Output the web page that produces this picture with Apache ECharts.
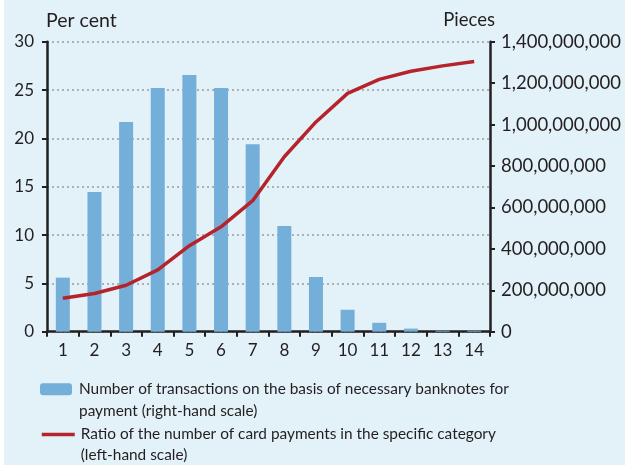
<!DOCTYPE html>
<html>
<head>
    <meta charset="utf-8">
    <title>Card payments</title>
    <script src="https://cdn.jsdelivr.net/npm/echarts@6/dist/echarts.min.js"></script>
</head>
<body style="margin:0;background:#fff">
    <div id="main" style="position:absolute;left:4px;top:0;width:621px;height:465px;background:#e3f1f9"></div>
    <script type="text/javascript">
        var chart = echarts.init(document.getElementById('main'));

        // categories: number of banknotes needed for payment
        var categories = ['1', '2', '3', '4', '5', '6', '7', '8', '9', '10', '11', '12', '13', '14'];
        // pieces (right-hand scale)
        var transactions = [261e6, 674e6, 1012e6, 1176e6, 1239e6, 1176e6, 905e6, 510e6, 264e6, 106e6, 43e6, 15e6, 5e6, 5e6];
        // per cent (left-hand scale)
        var cardRatio = [3.45, 3.95, 4.8, 6.4, 8.9, 10.85, 13.55, 18.1, 21.7, 24.65, 26.1, 26.95, 27.5, 27.95];

        var leftTicks = { min: 0, max: 30, interval: 5 };
        var rightTicks = { min: 0, max: 1400000000, interval: 200000000 };

        var barName = 'Number of transactions on the basis of necessary banknotes for\npayment (right-hand scale)';
        var lineName = 'Ratio of the number of card payments in the specific category\n(left-hand scale)';

        var ink = '#231f20';
        var font = 'Lato';

        // empty first line so the icon sits next to the first text line
        function legendText(name) { return '\n' + name; }

        var option = {
            animation: false,
            textStyle: { fontFamily: font },
            grid: { left: 43, right: 135, top: 41.7, height: 290 },
            graphic: [{
                type: 'text', left: 42, top: 11,
                style: { text: 'Per cent', fill: ink, font: '19.5px Lato' }
            }, {
                type: 'text', right: 130, top: 11,
                style: { text: 'Pieces', fill: ink, font: '18.5px Lato' }
            }],
            legend: [{
                left: 36, top: 357, padding: 0,
                itemWidth: 32, itemHeight: 12,
                data: [barName],
                formatter: legendText,
                textStyle: { color: ink, fontSize: 15.4, lineHeight: 21.5, padding: [0, 0, 0, 2] }
            }, {
                left: 36, top: 403, padding: 0,
                itemWidth: 33, itemHeight: 12,
                data: [lineName],
                formatter: legendText,
                itemStyle: { color: 'transparent', borderColor: 'transparent', borderWidth: 0 },
                lineStyle: { color: '#b5242a', width: 3.5 },
                textStyle: { color: ink, fontSize: 15.4, lineHeight: 21, padding: [0, 0, 0, 1] }
            }],
            xAxis: {
                type: 'category',
                data: categories,
                boundaryGap: true,
                axisLine: { show: true, lineStyle: { color: ink, width: 2.5 } },
                axisTick: { show: true, length: 5, lineStyle: { color: ink, width: 2 } },
                axisLabel: { color: ink, fontFamily: font, fontSize: 17, margin: 10 }
            },
            yAxis: [{
                type: 'value',
                position: 'left',
                min: leftTicks.min, max: leftTicks.max, interval: leftTicks.interval,
                axisLine: { show: true, lineStyle: { color: ink, width: 2.5 } },
                axisTick: { show: true, length: 5, lineStyle: { color: ink, width: 2 } },
                axisLabel: { color: ink, fontFamily: font, fontSize: 17, margin: 13 },
                splitLine: { show: true, lineStyle: { color: '#9c9c9c', width: 1.5, type: [2, 3] } }
            }, {
                type: 'value',
                position: 'right',
                min: rightTicks.min, max: rightTicks.max, interval: rightTicks.interval,
                axisLine: { show: true, lineStyle: { color: ink, width: 2.5 } },
                axisTick: { show: true, length: 5, lineStyle: { color: ink, width: 2 } },
                axisLabel: {
                    color: ink, fontFamily: font, fontSize: 18.5, margin: 11,
                    formatter: function (v) { return v.toLocaleString('en-US'); }
                },
                splitLine: { show: false }
            }],
            series: [{
                name: barName,
                type: 'bar',
                yAxisIndex: 1,
                barWidth: 14,
                itemStyle: { color: '#74afd9' },
                data: transactions
            }, {
                name: lineName,
                type: 'line',
                yAxisIndex: 0,
                symbol: 'none',
                lineStyle: { color: '#b5242a', width: 3.5 },
                itemStyle: { color: '#b5242a' },
                data: cardRatio
            }]
        };

        chart.setOption(option);
    </script>
</body>
</html>
